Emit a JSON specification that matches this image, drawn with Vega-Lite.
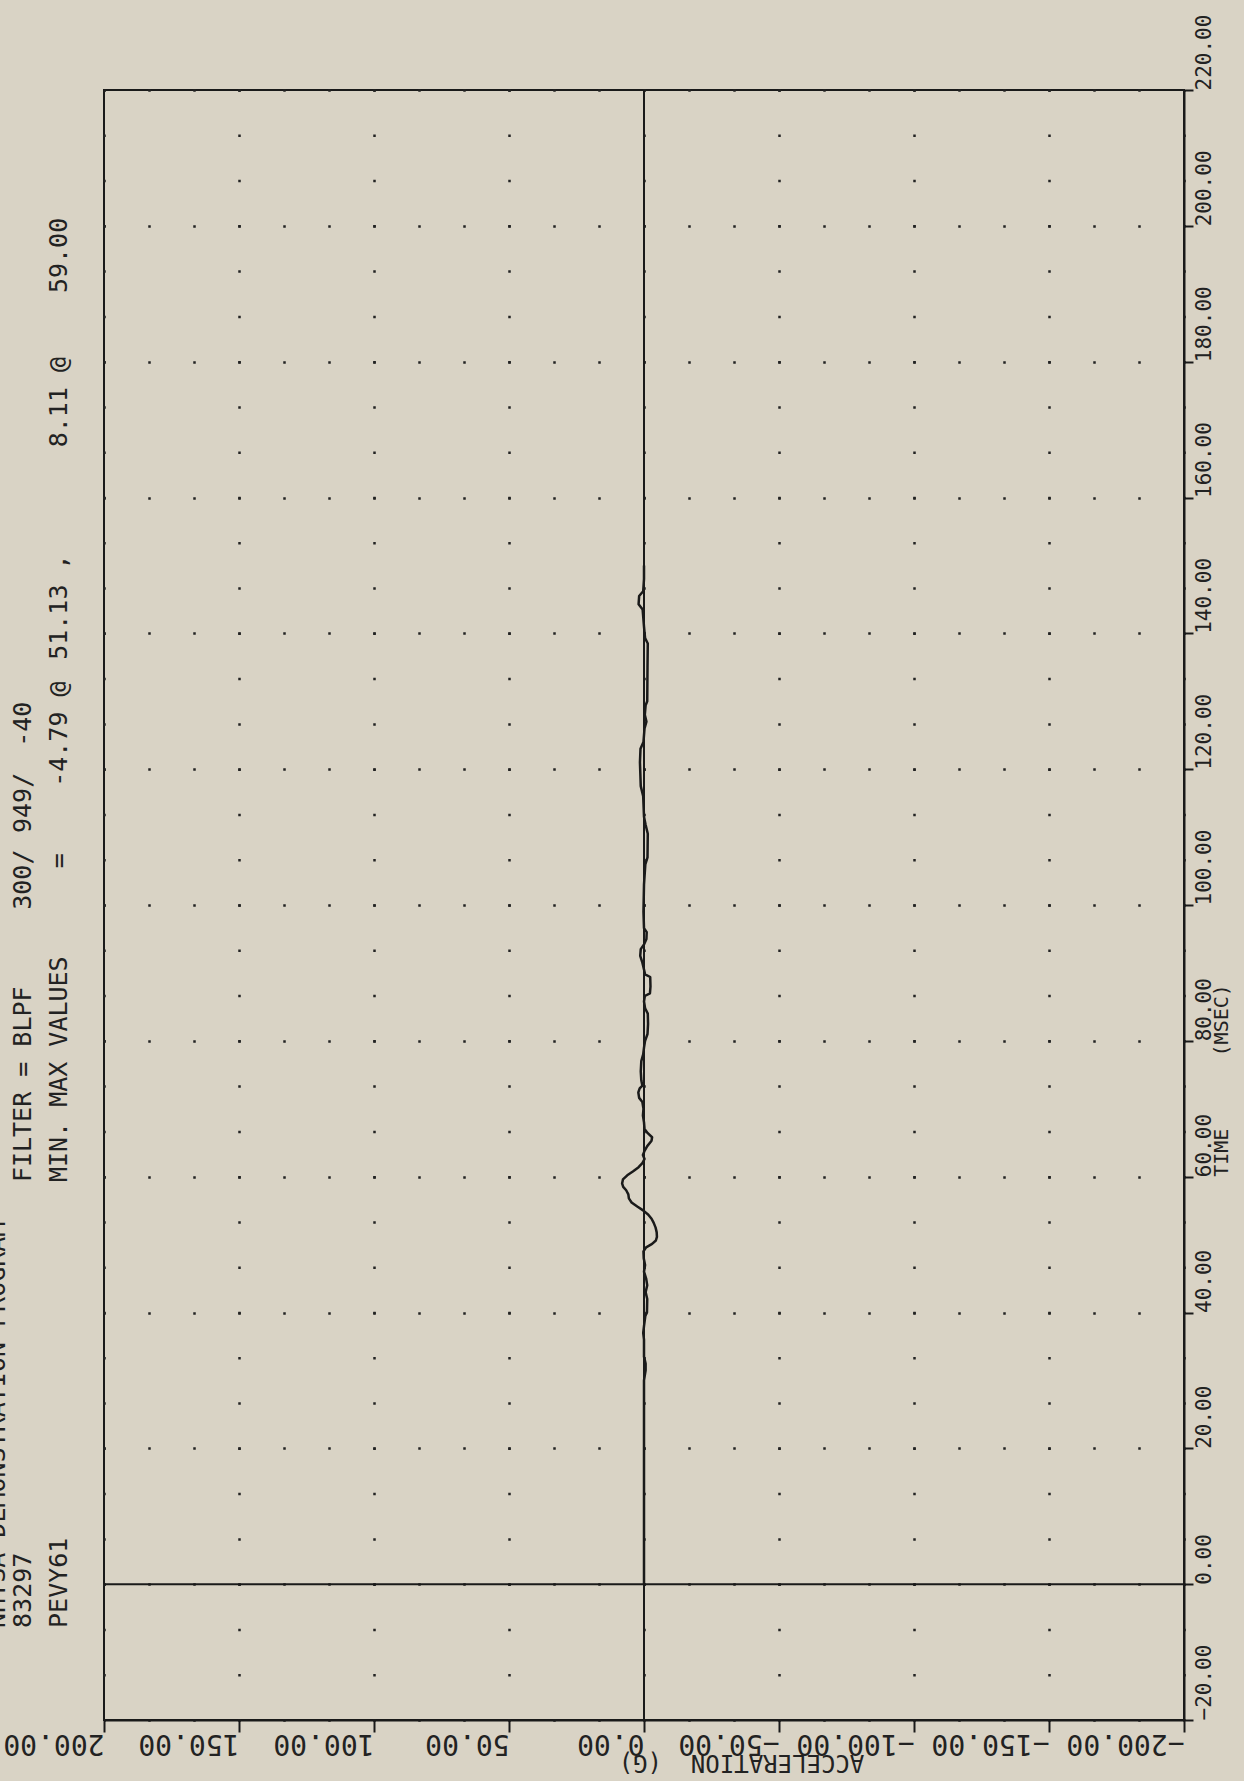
{
  "$schema": "https://vega.github.io/schema/vega-lite/v6.json",
  "width": 1080,
  "height": 1630,
  "autosize": {"type": "none"},
  "padding": {"left": 104, "top": 90, "right": 60, "bottom": 61},
  "background": "#d9d3c5",
  "config": {
    "view": {"stroke": "#1a1a1a", "strokeWidth": 2},
    "axis": {"labelFontWeight": "normal", "titleFontWeight": "normal"}
  },
  "datasets": {
    "curve": [
      {"t": 0, "g": 0}, {"t": 10, "g": 0}, {"t": 20, "g": 0}, {"t": 30, "g": 0},
      {"t": 31.5, "g": -0.6}, {"t": 32.5, "g": -0.6}, {"t": 33.5, "g": 0}, {"t": 36, "g": 0},
      {"t": 37, "g": 0.3}, {"t": 38, "g": 0}, {"t": 39.5, "g": -0.5}, {"t": 40, "g": -1.1},
      {"t": 42, "g": -1.2}, {"t": 43, "g": -0.6}, {"t": 44, "g": -1.2}, {"t": 45, "g": -0.8},
      {"t": 46, "g": 0}, {"t": 47, "g": -0.4}, {"t": 48, "g": 0.1}, {"t": 49, "g": 0.2},
      {"t": 49.6, "g": -0.8}, {"t": 50.1, "g": -3.0}, {"t": 50.6, "g": -4.4}, {"t": 51.13, "g": -4.79},
      {"t": 51.8, "g": -4.7}, {"t": 52.5, "g": -4.3}, {"t": 53.2, "g": -3.6}, {"t": 53.8, "g": -2.8},
      {"t": 54.4, "g": -1.6}, {"t": 55, "g": 0.2}, {"t": 55.6, "g": 2.5}, {"t": 56.2, "g": 4.6},
      {"t": 56.8, "g": 5.6}, {"t": 57.4, "g": 5.8}, {"t": 58, "g": 6.6}, {"t": 58.5, "g": 7.7},
      {"t": 59, "g": 8.11}, {"t": 59.6, "g": 7.8}, {"t": 60.2, "g": 6.2}, {"t": 60.8, "g": 4.0},
      {"t": 61.4, "g": 2.0}, {"t": 62, "g": 0.6}, {"t": 62.6, "g": -0.2}, {"t": 63.2, "g": 0.4},
      {"t": 63.8, "g": -0.2}, {"t": 64.5, "g": -1.2}, {"t": 65.3, "g": -2.8}, {"t": 65.8, "g": -3.0},
      {"t": 66.4, "g": -1.4}, {"t": 67, "g": -0.2}, {"t": 68, "g": 0}, {"t": 69, "g": 0.4},
      {"t": 70, "g": 0.2}, {"t": 71, "g": 0.6}, {"t": 71.6, "g": 1.8}, {"t": 72.4, "g": 2.1},
      {"t": 73, "g": 1.6}, {"t": 73.4, "g": 0.6}, {"t": 74.2, "g": 1.0}, {"t": 75.5, "g": 1.2},
      {"t": 77, "g": 1.0}, {"t": 78, "g": 0.3}, {"t": 79, "g": 0}, {"t": 80, "g": -0.4},
      {"t": 81, "g": -1.3}, {"t": 82.5, "g": -1.5}, {"t": 84, "g": -1.4}, {"t": 84.8, "g": -0.4},
      {"t": 85.8, "g": 0}, {"t": 86.6, "g": -0.3}, {"t": 87, "g": -2.2}, {"t": 88, "g": -2.4},
      {"t": 89.4, "g": -2.3}, {"t": 89.8, "g": -0.4}, {"t": 90.5, "g": 0}, {"t": 91.5, "g": 0.6},
      {"t": 92.5, "g": 1.4}, {"t": 93.5, "g": 1.2}, {"t": 94.2, "g": 0}, {"t": 95, "g": -0.9},
      {"t": 96, "g": -1.0}, {"t": 96.6, "g": 0}, {"t": 99, "g": 0.2}, {"t": 103, "g": 0},
      {"t": 106, "g": -0.5}, {"t": 107, "g": -1.3}, {"t": 110.5, "g": -1.4}, {"t": 111.8, "g": -0.6},
      {"t": 113, "g": 0}, {"t": 116, "g": 0.3}, {"t": 117.5, "g": 1.2}, {"t": 121, "g": 1.5},
      {"t": 123, "g": 1.3}, {"t": 124, "g": 0.2}, {"t": 126, "g": -0.2}, {"t": 127, "g": -0.9},
      {"t": 128, "g": -0.3}, {"t": 129.4, "g": -0.6}, {"t": 130, "g": -1.2}, {"t": 135, "g": -1.3},
      {"t": 138.5, "g": -1.4}, {"t": 139.3, "g": -0.4}, {"t": 141, "g": 0}, {"t": 143.5, "g": 0.5},
      {"t": 144.3, "g": 2.0}, {"t": 145.5, "g": 1.8}, {"t": 146.2, "g": 0.3}, {"t": 148, "g": 0},
      {"t": 150, "g": 0}
    ],
    "header": [
      {"a": 239.6, "t": -6.45, "s": "NHTSA DEMONSTRATION PROGRAM"},
      {"a": 230, "t": -6.45, "s": "83297"},
      {"a": 230, "t": 59.2, "s": "FILTER = BLPF"},
      {"a": 230, "t": 99.3, "s": "300/"},
      {"a": 230, "t": 110.6, "s": "949/"},
      {"a": 230, "t": 123.3, "s": "-40"},
      {"a": 216.7, "t": -6.45, "s": "PEVY61"},
      {"a": 216.7, "t": 59.2, "s": "MIN. MAX VALUES"},
      {"a": 216.7, "t": 105.4, "s": "="},
      {"a": 216.7, "t": 117.4, "s": "-4.79 @"},
      {"a": 216.7, "t": 136.1, "s": "51.13 ,"},
      {"a": 216.7, "t": 167.4, "s": "8.11 @"},
      {"a": 216.7, "t": 190.1, "s": "59.00"}
    ]
  },
  "layer": [
    {
      "data": {"name": "curve"},
      "mark": {"type": "line", "stroke": "#1a1a1a", "strokeWidth": 2.5, "strokeJoin": "round"},
      "encoding": {
        "x": {
          "field": "g", "type": "quantitative",
          "scale": {"domain": [-200, 200], "reverse": true, "nice": false, "zero": false},
          "axis": {
            "orient": "bottom",
            "values": [-200, -150, -100, -50, 0, 50, 100, 150, 200],
            "format": ".2f",
            "labelAngle": 180, "labelAlign": "left", "labelBaseline": "alphabetic",
            "labelFont": "DejaVu Sans Mono", "labelFontSize": 28, "labelColor": "#222",
            "labelPadding": 2, "labelFlush": false, "labelOverlap": false, "labelBound": false,
            "tickSize": 12, "tickWidth": 2, "tickColor": "#1a1a1a",
            "domainColor": "#1a1a1a", "domainWidth": 2,
            "grid": true, "gridColor": "#222", "gridWidth": 2.5, "gridOpacity": 1,
            "gridDash": [2.5, 42.778], "gridDashOffset": 1.25,
            "title": "ACCELERATION\u00a0\u00a0(G)", "titleAngle": 180, "titleX": 637, "titleY": 41,
            "titleAlign": "center", "titleBaseline": "middle",
            "titleFont": "DejaVu Sans Mono", "titleFontSize": 24, "titleColor": "#222"
          }
        },
        "y": {
          "field": "t", "type": "quantitative",
          "scale": {"domain": [-20, 220], "nice": false, "zero": false},
          "axis": {
            "orient": "right",
            "values": [-20, 0, 20, 40, 60, 80, 100, 120, 140, 160, 180, 200, 220],
            "format": ".2f",
            "labelAngle": 270, "labelAlign": "left", "labelBaseline": "top",
            "labelFont": "DejaVu Sans Mono", "labelFontSize": 21, "labelColor": "#222",
            "labelPadding": 0, "labelFlush": false, "labelOverlap": false, "labelBound": false,
            "tickSize": 9, "tickWidth": 2, "tickColor": "#1a1a1a",
            "domainColor": "#1a1a1a", "domainWidth": 2,
            "grid": true, "gridColor": "#222", "gridWidth": 2.5, "gridOpacity": 1,
            "gridDash": [2.5, 42.5], "gridDashOffset": 1.25,
            "title": "TIME\u00a0\u00a0\u00a0\u00a0\u00a0\u00a0(MSEC)", "titleAngle": 270, "titleX": 37, "titleY": 990,
            "titleAlign": "center", "titleBaseline": "middle",
            "titleFont": "DejaVu Sans Mono", "titleFontSize": 20, "titleColor": "#222"
          }
        },
        "order": {"field": "t", "type": "quantitative"}
      }
    },
    {
      "data": {"values": [{}]},
      "mark": {"type": "rule", "stroke": "#1a1a1a", "strokeWidth": 2},
      "encoding": {
        "x": {"datum": 0, "type": "quantitative", "scale": {"domain": [-200, 200], "reverse": true, "nice": false, "zero": false}}
      }
    },
    {
      "data": {"values": [{}]},
      "mark": {"type": "rule", "stroke": "#1a1a1a", "strokeWidth": 2},
      "encoding": {
        "y": {"datum": 0, "type": "quantitative", "scale": {"domain": [-20, 220], "nice": false, "zero": false}}
      }
    },
    {
      "data": {"name": "header"},
      "mark": {"type": "text", "angle": 270, "align": "left", "baseline": "middle", "font": "DejaVu Sans Mono", "fontSize": 25, "color": "#222"},
      "encoding": {
        "x": {"field": "a", "type": "quantitative", "scale": {"domain": [-200, 200], "reverse": true, "nice": false, "zero": false}},
        "y": {"field": "t", "type": "quantitative", "scale": {"domain": [-20, 220], "nice": false, "zero": false}},
        "text": {"field": "s"}
      }
    }
  ]
}
